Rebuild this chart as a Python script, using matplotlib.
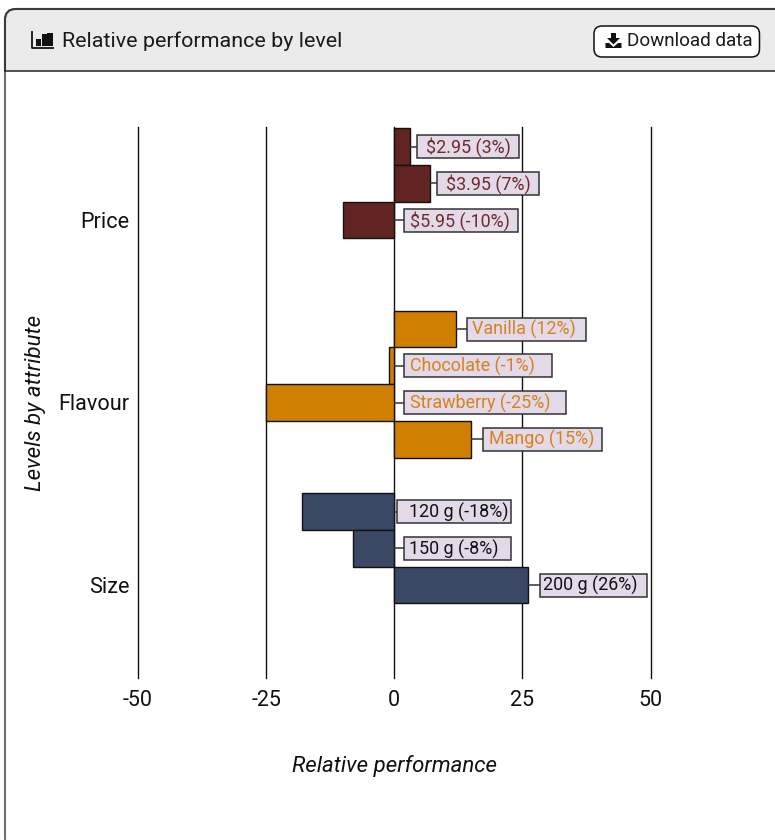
import matplotlib
matplotlib.use("Agg")
import matplotlib.pyplot as plt
from matplotlib.patches import FancyBboxPatch, Rectangle, Polygon
from matplotlib.transforms import Affine2D

plt.rcParams['font.family'] = ['Roboto', 'DejaVu Sans']

attributes = ["Price", "Flavour", "Size"]
price_levels = ["$2.95", "$3.95", "$5.95"]
price_values = [3, 7, -10]
flavour_levels = ["Vanilla", "Chocolate", "Strawberry", "Mango"]
flavour_values = [12, -1, -25, 15]
size_levels = ["120 g", "150 g", "200 g"]
size_values = [-18, -8, 26]
x_ticks = [-50, -25, 0, 25, 50]

W, H = 775, 840
ROW = 36.7
GROUP_STEP = 182.5
GROUP_FIRST = 220
BOX_H = 23

# label box layout in px: gap from bar end, box width, text inset
price_boxes = [(7, 102, 9), (7, 102, 9), (10, 114, 6)]
flavour_boxes = [(11, 119, 5.5), (10, 148, 6), (10, 162, 6), (11.5, 119, 6)]
size_boxes = [(3, 114, 11.5), (10, 107, 5), (12, 107, 3.5)]

groups = [
    (price_levels, price_values, "#622422", "#6f2c2c", price_boxes),
    (flavour_levels, flavour_values, "#d17f00", "#d5831a", flavour_boxes),
    (size_levels, size_values, "#3a4866", "#111111", size_boxes),
]

fig = plt.figure(figsize=(W / 100, H / 100), dpi=100)

# page layer in pixel coordinates: card, header, icons
page = fig.add_axes([0, 0, 1, 1])
page.set_xlim(0, W)
page.set_ylim(H, 0)
page.axis("off")


def card_shape(face):
    return FancyBboxPatch((5, 9), 800, 840, boxstyle="round,pad=0,rounding_size=11",
                          facecolor=face, edgecolor="#6e6e6e", linewidth=1.5)


page.add_patch(card_shape("white"))
header = card_shape("#ebebeb")
header.set_edgecolor("#3c3c3c")
page.add_patch(header)
header.set_clip_path(Rectangle((0, 0), W, 70.5, transform=page.transData))
page.plot([5, W], [70.5, 70.5], color="#222222", lw=1.1)

# bar chart icon
page.plot([31.5, 31.5, 54], [31, 48, 48], color="#111111", lw=1.3, solid_capstyle="butt")
for left, top, wd in [(36, 39, 5), (41.5, 34, 5), (47, 33, 5.5)]:
    page.add_patch(Rectangle((left, top), wd, 46 - top, color="#111111", lw=0))
page.text(62, 41, "Relative performance by level", fontsize=15.45, color="#1a1a1a",
          va="center", ha="left")

# download button
page.add_patch(FancyBboxPatch((594, 26), 165.5, 31, boxstyle="round,pad=0,rounding_size=8",
                              facecolor="white", edgecolor="#111111", linewidth=1.1))
page.add_patch(Polygon([(611, 33), (616, 33), (616, 38), (620, 38), (613.5, 44.5), (607, 38), (611, 38)],
                       color="#111111", lw=0))
page.add_patch(Polygon([(605.5, 43), (609, 43), (613.5, 47), (618, 43), (621.5, 43), (621.5, 48), (605.5, 48)],
                       color="#111111", lw=0))
page.text(627, 41.5, "Download data", fontsize=13.6, color="#1a1a1a", va="center", ha="left")

# main plot
ax = fig.add_axes([138 / W, 1 - 678 / H, (650.5 - 138) / W, (678 - 127) / H])
ax.patch.set_alpha(0)
ax.set_xlim(-50, 50)
ax.set_ylim(678, 127)
for spine in ax.spines.values():
    spine.set_visible(False)
ax.set_xticks(x_ticks)
ax.set_xticklabels([str(t) for t in x_ticks], fontsize=15.5, color="#111111")
ax.tick_params(axis="x", length=0, pad=9)
ax.tick_params(axis="y", length=0, pad=6)
ax.set_axisbelow(True)
ax.grid(axis="x", color="#111111", lw=1.0)
# the outer gridlines sit on the axes edge
for line in ax.get_xgridlines():
    line.set_clip_on(False)

tick_pos = []
for g, (levels, values, colour, text_colour, boxes) in enumerate(groups):
    centre = GROUP_FIRST + g * GROUP_STEP
    tick_pos.append(centre)
    ys = [centre + (i - 2) * ROW for i in range(len(values))]
    ax.barh(ys, values, height=ROW, color=colour, edgecolor="#111111", linewidth=1, zorder=2)
    for level, val, y, (gap, box_w, inset) in zip(levels, values, ys, boxes):
        # label furniture is laid out in px from the bar end
        px = Affine2D().translate(*ax.transData.transform((max(val, 0), y)))
        ax.plot([0, gap], [0, 0], color="#333333", lw=1.1, transform=px, zorder=3,
                solid_capstyle="butt", clip_on=False)
        ax.add_patch(Rectangle((gap, -BOX_H / 2), box_w, BOX_H, transform=px, zorder=4,
                               facecolor="#e3d9e8", edgecolor="#333333", linewidth=1.1,
                               clip_on=False))
        ax.text(gap + inset, 1.5, f"{level} ({val}%)", transform=px, zorder=5, va="center_baseline",
                ha="left", fontsize=12.9, color=text_colour, clip_on=False)

ax.set_yticks(tick_pos)
ax.set_yticklabels(attributes, fontsize=15.6, color="#111111")

page.text(394.5, 766, "Relative performance", fontsize=16, style="italic", color="#111111",
          ha="center", va="center")
page.text(36, 403, "Levels by attribute", fontsize=16, style="italic", color="#111111",
          rotation=90, ha="center", va="center")

fig.savefig("out.png", dpi=100)
